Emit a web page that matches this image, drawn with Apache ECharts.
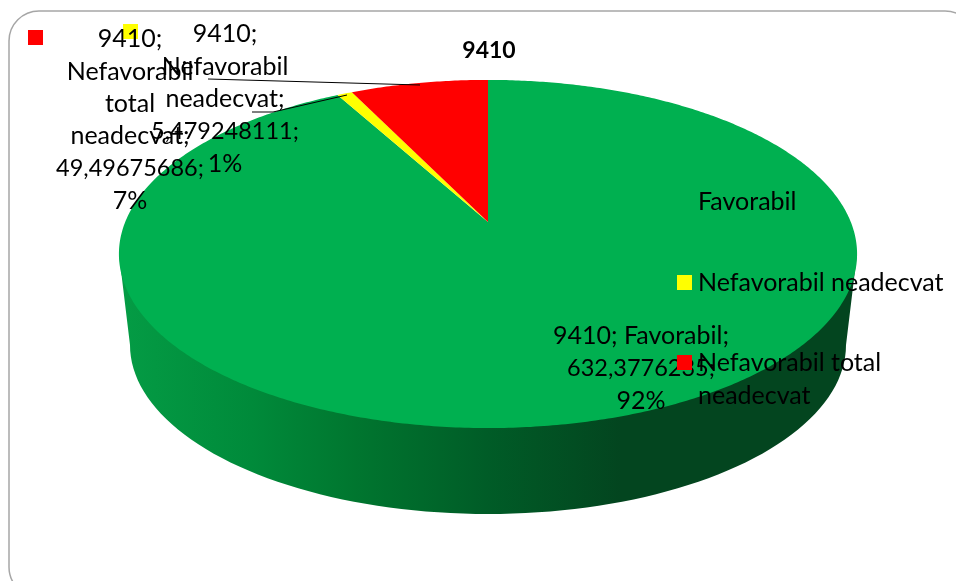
<!DOCTYPE html>
<html>
<head>
<meta charset="utf-8">
<style>
html,body{margin:0;padding:0;background:#fff;overflow:hidden}
#chart{width:956px;height:581px}
</style>
<script src="https://cdn.jsdelivr.net/npm/echarts@6/dist/echarts.min.js"></script>
</head>
<body>
<div id="chart"></div>
<script>
var chartTitle = '9410';
var categories = ['Favorabil', 'Nefavorabil neadecvat', 'Nefavorabil total neadecvat'];
var values = [632.3776235, 5.479248111, 49.49675686];
var colors = ['#00B050', '#FFFF00', '#FF0000'];
// how each data label and legend entry wraps in the picture
var labelNames = [['Favorabil;'], ['Nefavorabil', 'neadecvat;'], ['Nefavorabil', 'total', 'neadecvat;']];
var legendLines = [['Favorabil'], ['Nefavorabil neadecvat'], ['Nefavorabil total', 'neadecvat']];

var FONT = 'Lato';
var FONT_SIZE = 25;
var LINE_H = 32.4;

// top face of the 3D pie: projected circle, apex is the projected centre
var cx = 488, apexY = 222, a = 362.8, b = 168.2, k = 0.1837;
function project(theta) {
	var u = Math.sin(theta), v = -Math.cos(theta), w = 1 - k * v;
	return [cx + a * u / w, apexY + b * v / w];
}

var total = values.reduce(function (s, v) { return s + v; }, 0);

function labelText(i) {
	var head = i === 0 ? [chartTitle + '; ' + labelNames[0][0]] : [chartTitle + ';'].concat(labelNames[i]);
	var val = String(values[i]).replace('.', ',') + ';';
	// Lato digits run wider than the original font, the long number gets a smaller size
	return head.concat(['{num|' + val + '}', Math.round(values[i] / total * 100) + '%']).join('\n');
}

var labelPos = [[641, 320], [225, 18], [130, 23]];

function wallShape() {
	// side of the disc, lower face is a slightly smaller ellipse
	var pts = [[cx - 369, 254]];
	var i, t;
	for (i = 0; i <= 90; i++) {
		t = Math.PI - Math.PI * i / 90;
		pts.push([cx + 358 * Math.cos(t), 345 + 169 * Math.sin(t)]);
	}
	pts.push([cx + 369, 254]);
	return pts;
}

function renderSlice(params, api) {
	var i = params.dataIndex;
	var before = 0;
	for (var j = 0; j < i; j++) before += values[j];
	var start = before / total * Math.PI * 2;
	var end = (before + api.value(0)) / total * Math.PI * 2;
	var steps = Math.max(2, Math.ceil((end - start) / 0.01));
	var pts = [[cx, apexY]];
	for (var s = 0; s <= steps; s++) {
		pts.push(project(start + (end - start) * s / steps));
	}
	var children = [];
	if (i === 0) {
		children.push({
			type: 'polygon',
			shape: { points: wallShape() },
			style: {
				fill: new echarts.graphic.LinearGradient(119, 0, 857, 0, [
					{ offset: 0, color: '#049C45' },
					{ offset: 0.18, color: '#008A3A' },
					{ offset: 0.32, color: '#00762F' },
					{ offset: 0.5, color: '#005C27' },
					{ offset: 0.68, color: '#03451F' },
					{ offset: 1, color: '#03451F' }
				], true)
			}
		});
	}
	children.push({
		type: 'polygon',
		shape: { points: pts },
		style: { fill: colors[i] }
	});
	children.push({
		type: 'text',
		z2: 20,
		style: {
			text: labelText(i),
			x: labelPos[i][0],
			y: labelPos[i][1],
			align: 'center',
			verticalAlign: 'top',
			fontFamily: FONT,
			fontSize: FONT_SIZE,
			lineHeight: LINE_H,
			fill: '#000',
			rich: {
				num: { fontFamily: FONT, fontSize: 23.5, lineHeight: LINE_H, fill: '#000' }
			}
		}
	});
	return { type: 'group', children: children };
}

// legend and stray label keys sit where the original left them
var legendY = [202, 283, 363];
var legendGraphics = [];
categories.forEach(function (c, i) {
	legendGraphics.push({
		type: 'rect', z: 30,
		shape: { x: 677, y: legendY[i] - 8, width: 15, height: 15 },
		style: { fill: colors[i] }
	});
	legendLines[i].forEach(function (line, n) {
		legendGraphics.push({
			type: 'text', z: 31,
			style: {
				text: line, x: 698, y: legendY[i] + n * 33,
				verticalAlign: 'middle', fontFamily: FONT, fontSize: FONT_SIZE, fill: '#000'
			}
		});
	});
});
var keyPos = [[527, 328], [123, 24], [28, 30]];
keyPos.forEach(function (p, i) {
	legendGraphics.push({
		type: 'rect', z: 1,
		shape: { x: p[0], y: p[1], width: 15, height: 15 },
		style: { fill: colors[i] }
	});
});

var option = {
	backgroundColor: '#fff',
	animation: false,
	title: {
		text: chartTitle,
		left: 484,
		top: 34,
		textAlign: 'center',
		textStyle: { fontFamily: FONT, fontSize: 23, fontWeight: 'bold', color: '#000' }
	},
	graphic: [{
		type: 'rect', z: -1,
		shape: { x: 9, y: 11, width: 966, height: 586, r: 30 },
		style: { fill: '#fff', stroke: '#A6A6A6', lineWidth: 1.5 }
	}, {
		type: 'polyline', z: 10,
		shape: { points: [[208, 79], [420, 85]] },
		style: { stroke: '#000', lineWidth: 1, fill: null }
	}, {
		type: 'polyline', z: 10,
		shape: { points: [[252, 112], [273, 112], [347, 95]] },
		style: { stroke: '#000', lineWidth: 1, fill: null }
	}].concat(legendGraphics),
	series: [{
		type: 'custom',
		coordinateSystem: 'none',
		silent: true,
		z: 5,
		renderItem: renderSlice,
		data: values.map(function (v, i) { return { name: categories[i], value: [v] }; })
	}]
};

var myChart = echarts.init(document.getElementById('chart'));
myChart.setOption(option);
</script>
</body>
</html>
